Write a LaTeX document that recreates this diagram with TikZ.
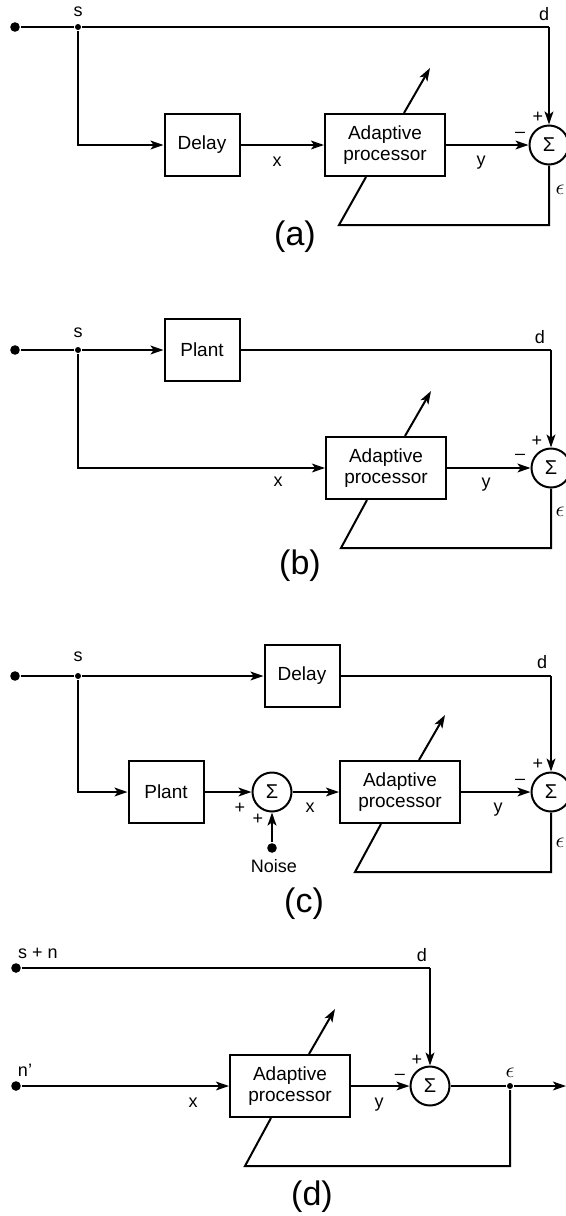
\documentclass[tikz,border=0pt]{standalone}
\usepackage{fontspec}
\setmainfont{Liberation Sans}
\usetikzlibrary{arrows.meta}

\begin{document}
\begin{tikzpicture}[x=0.5pt,y=-0.5pt, line width=1pt, every node/.style={font=\fontsize{9.5}{10.5}\selectfont}, block/.style={draw,minimum width=37.5pt,minimum height=31pt,inner sep=1pt,align=center}, procbox/.style={block,minimum width=60pt}, sumnode/.style={draw,circle,minimum size=19.5pt,inner sep=0pt,font=\fontsize{10}{10}\selectfont}, dot/.style={circle,fill,inner sep=0pt,minimum size=4.8pt}, jdot/.style={circle,fill,inner sep=0pt,minimum size=3pt}, lbl/.style={inner sep=0pt,font=\fontsize{9}{10}\selectfont}, eps/.style={lbl,font=\fontsize{11}{11}\selectfont}, captxt/.style={inner sep=0pt,font=\fontsize{17}{19}\selectfont}, arr/.style={-{Stealth[length=6.5pt,width=4.4pt,inset=1.6pt]}}]
\useasboundingbox (0,0) rectangle (566,1216);
% (a)
\node[dot] (in1) at (15,27) {};
\node[jdot] (s1) at (78,27) {};
\node[block] (dly1) at (202,145) {Delay};
\node[procbox] (ap1) at (385,145) {Adaptive\\processor};
\node[sumnode] (sum1) at (549,145) {Σ};
\coordinate (d1) at (549,27); \coordinate (tip1) at (430,68); \coordinate (fb1) at (339,225);
\draw (in1) -- (s1) -- (d1); \draw[arr] (d1) -- (sum1);
\draw[arr] (s1) |- (dly1); \draw[arr] (dly1) -- (ap1); \draw[arr] (ap1) -- (sum1);
\draw[arr] ([xshift=9.5pt]ap1.north) -- (tip1); \draw (sum1) |- (fb1) -- ([xshift=-9.5pt]ap1.south);
\node[lbl] (s1l) at (78,12) {s}; \node[lbl] (d1l) at (544,14) {d}; \node[lbl] (x1l) at (277,162) {x}; \node[lbl] (y1l) at (481,163) {y};
\node[lbl] (p1l) at (538,117) {+}; \node[lbl] (m1l) at (520,135) {–}; \node[eps] (e1l) at (560,190) {$\epsilon$};
\node[captxt] (cap1) at (295,237) {(a)};
% (b)
\node[dot] (in2) at (15,350) {};
\node[jdot] (s2) at (78,350) {};
\node[block] (plant2) at (202,350) {Plant};
\node[procbox] (ap2) at (386,468) {Adaptive\\processor};
\node[sumnode] (sum2) at (551,468) {Σ};
\coordinate (d2) at (551,350); \coordinate (tip2) at (431,391); \coordinate (fb2) at (341,548);
\draw (in2) -- (s2); \draw[arr] (s2) -- (plant2); \draw (plant2) -- (d2); \draw[arr] (d2) -- (sum2);
\draw[arr] (s2) |- (ap2); \draw[arr] (ap2) -- (sum2);
\draw[arr] ([xshift=9.5pt]ap2.north) -- (tip2); \draw (sum2) |- (fb2) -- ([xshift=-9.5pt]ap2.south);
\node[lbl] (s2l) at (78,333) {s}; \node[lbl] (d2l) at (540,337) {d}; \node[lbl] (x2l) at (278,482) {x}; \node[lbl] (y2l) at (486,485) {y};
\node[lbl] (p2l) at (537,441) {+}; \node[lbl] (m2l) at (520,457) {–}; \node[eps] (e2l) at (560,512) {$\epsilon$};
\node[captxt] (cap2) at (300,566) {(b)};
% (c)
\node[dot] (in3) at (15,676) {};
\node[jdot] (s3) at (78,676) {};
\node[block] (dly3) at (302,676) {Delay};
\node[block] (plant3) at (166,792) {Plant};
\node[sumnode] (nsum3) at (272,792) {Σ};
\node[dot] (noise3) at (272,848) {};
\node[procbox] (ap3) at (400,792) {Adaptive\\processor};
\node[sumnode] (sum3) at (551,792) {Σ};
\coordinate (d3) at (551,676); \coordinate (tip3) at (445,715); \coordinate (fb3) at (355,872);
\draw (in3) -- (s3); \draw[arr] (s3) -- (dly3); \draw (dly3) -- (d3); \draw[arr] (d3) -- (sum3);
\draw[arr] (s3) |- (plant3); \draw[arr] (plant3) -- (nsum3); \draw[arr] (noise3) -- (nsum3); \draw[arr] (nsum3) -- (ap3); \draw[arr] (ap3) -- (sum3);
\draw[arr] ([xshift=9.5pt]ap3.north) -- (tip3); \draw (sum3) |- (fb3) -- ([xshift=-9.5pt]ap3.south);
\node[lbl] (s3l) at (78,657) {s}; \node[lbl] (d3l) at (542,662) {d}; \node[lbl] (x3l) at (310,808) {x}; \node[lbl] (y3l) at (498,810) {y};
\node[lbl] (pa3l) at (240,808) {+}; \node[lbl] (pb3l) at (258,819) {+}; \node[lbl] (n3l) at (274,866) {Noise};
\node[lbl] (p3l) at (538,764) {+}; \node[lbl] (m3l) at (520,782) {–}; \node[eps] (e3l) at (560,843) {$\epsilon$};
\node[captxt] (cap3) at (304,904) {(c)};
% (d)
\node[dot] (in4a) at (16,968) {};
\node[dot] (in4b) at (16,1086) {};
\node[procbox] (ap4) at (290,1086) {Adaptive\\processor};
\node[sumnode] (sum4) at (430,1086) {Σ};
\node[jdot] (j4) at (510,1086) {};
\coordinate (d4) at (430,968); \coordinate (out4) at (566,1086); \coordinate (tip4) at (335,1009); \coordinate (fb4) at (245,1166);
\draw (in4a) -- (d4); \draw[arr] (d4) -- (sum4);
\draw[arr] (in4b) -- (ap4); \draw[arr] (ap4) -- (sum4); \draw (sum4) -- (j4); \draw[arr] (j4) -- (out4);
\draw[arr] ([xshift=9.5pt]ap4.north) -- (tip4); \draw (j4) |- (fb4) -- ([xshift=-9.5pt]ap4.south);
\node[lbl] (sn4l) at (38,953) {s + n}; \node[lbl] (n4l) at (25,1070) {n’}; \node[lbl] (d4l) at (422,955) {d};
\node[lbl] (x4l) at (193,1103) {x}; \node[lbl] (y4l) at (379,1105) {y};
\node[lbl] (p4l) at (417,1060) {+}; \node[lbl] (m4l) at (400,1077) {–}; \node[eps] (e4l) at (510,1073) {$\epsilon$};
\node[captxt] (cap4) at (312,1197) {(d)};
\end{tikzpicture}
\end{document}
